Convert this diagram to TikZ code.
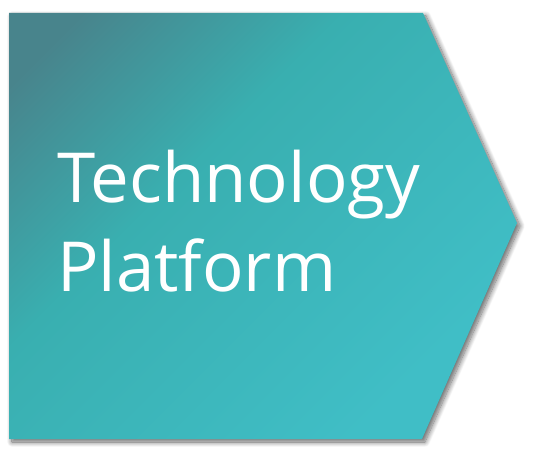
\documentclass[tikz,border=0pt]{standalone}
\usepackage{fontspec}
\setmainfont{Open Sans}
\usetikzlibrary{shadows.blur}

\definecolor{tealdark}{RGB}{72,132,140}
\definecolor{tealmid}{RGB}{57,175,176}
\definecolor{teallight}{RGB}{64,190,198}

\pgfdeclarehorizontalshading{tealfade}{100bp}{color(0bp)=(tealdark); color(20bp)=(tealdark);
    color(40bp)=(tealmid); color(73bp)=(teallight); color(100bp)=(teallight)}

\tikzset{
    arrowbox/.style  = {shading=tealfade, shading angle=-45,
                        blur shadow={shadow xshift=3pt, shadow yshift=-3pt, shadow blur radius=5pt, shadow blur steps=12, shadow opacity=60}},
    labeltext/.style = {white, inner sep=0pt, anchor=base west, font=\fontsize{69}{80}\selectfont}
}

\begin{document}
\begin{tikzpicture}[x=1pt, y=1pt]
            \useasboundingbox                (0,0) rectangle (534,452);      % page frame
            \shade      [arrowbox]           (9,439) -- (423,439) -- (517,229) -- (422,13) -- (9,13) -- cycle; % arrow shape
            \node       [labeltext] (tech)   at (57,249) {Technology};      % first line
            \node       [labeltext] (plat)   at (57,160) {Platform};        % second line
\end{tikzpicture}
\end{document}
